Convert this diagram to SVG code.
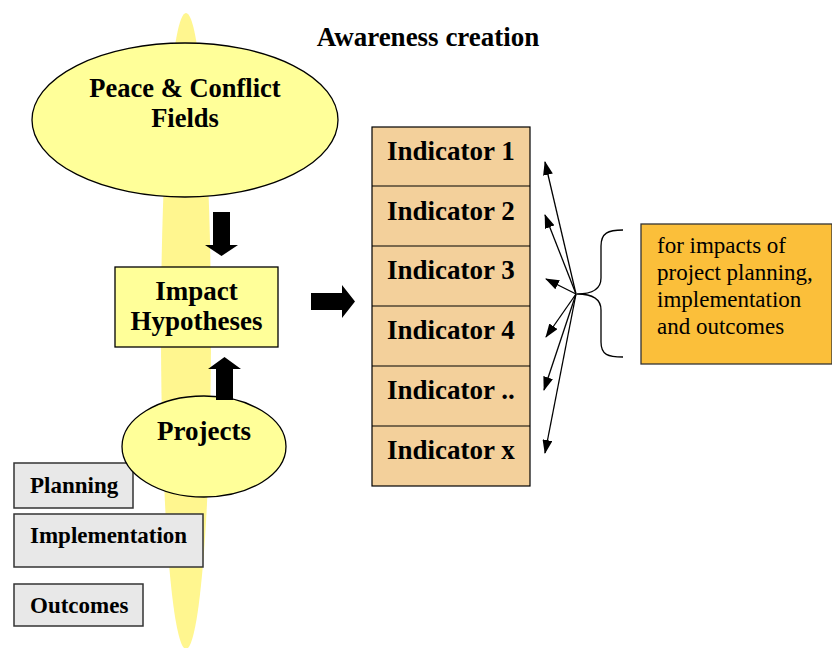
<svg xmlns="http://www.w3.org/2000/svg" width="832" height="648" viewBox="0 0 832 648">
<defs>
<style>
.b{font-family:"Liberation Serif","Times New Roman",serif;font-weight:bold;fill:#000}
.r{font-family:"Liberation Serif","Times New Roman",serif;fill:#000}
.yel{fill:#ffff99;stroke:#000;stroke-width:1.3}
.gray{fill:#e8e8e8;stroke:#333;stroke-width:1.5}
.ind{fill:#f3d09b;stroke:#000;stroke-width:1.2}
.fan{stroke:#000;stroke-width:1.3;fill:none;marker-end:url(#ah)}
</style>
<marker id="ah" viewBox="0 0 14 10" refX="13" refY="5" markerWidth="14" markerHeight="10" markerUnits="userSpaceOnUse" orient="auto">
<path d="M0,0 L14,5 L0,10 Z" fill="#000"/>
</marker>
</defs>
<rect width="832" height="648" fill="#fff"/>
<ellipse id="spindle" cx="186" cy="331" rx="25" ry="318" fill="#fff68f"/>
<text class="b" x="428" y="46" font-size="27" text-anchor="middle">Awareness creation</text>
<g id="peace">
<ellipse class="yel" cx="185" cy="120" rx="153" ry="77"/>
<text class="b" x="185" y="97" font-size="26.5" text-anchor="middle">Peace &amp; Conflict</text>
<text class="b" x="185" y="127" font-size="26.5" text-anchor="middle">Fields</text>
</g>
<g id="impact">
<rect class="yel" x="115" y="267" width="163" height="80"/>
<text class="b" x="196.5" y="300" font-size="27" text-anchor="middle">Impact</text>
<text class="b" x="196.5" y="330" font-size="27" text-anchor="middle">Hypotheses</text>
</g>
<g id="planning">
<rect class="gray" x="14" y="463" width="119" height="45"/>
<text class="b" x="30" y="493" font-size="23">Planning</text>
</g>
<g id="implementation">
<rect class="gray" x="14" y="514" width="189" height="53"/>
<text class="b" x="30" y="543" font-size="23">Implementation</text>
</g>
<g id="outcomes">
<rect class="gray" x="14" y="584" width="129" height="42"/>
<text class="b" x="30" y="613" font-size="23">Outcomes</text>
</g>
<g id="projects">
<ellipse class="yel" cx="204" cy="446.5" rx="82" ry="50.5"/>
<text class="b" x="204" y="440" font-size="27" text-anchor="middle">Projects</text>
</g>
<g id="indicators">
<rect class="ind" x="372" y="127" width="158" height="359"/>
<line x1="372" y1="186" x2="530" y2="186" stroke="#000" stroke-width="1.2"/>
<line x1="372" y1="246" x2="530" y2="246" stroke="#000" stroke-width="1.2"/>
<line x1="372" y1="306" x2="530" y2="306" stroke="#000" stroke-width="1.2"/>
<line x1="372" y1="366" x2="530" y2="366" stroke="#000" stroke-width="1.2"/>
<line x1="372" y1="426" x2="530" y2="426" stroke="#000" stroke-width="1.2"/>
<text class="b" x="387" y="160" font-size="27">Indicator 1</text>
<text class="b" x="387" y="220" font-size="27">Indicator 2</text>
<text class="b" x="387" y="279" font-size="27">Indicator 3</text>
<text class="b" x="387" y="339" font-size="27">Indicator 4</text>
<text class="b" x="387" y="399" font-size="27">Indicator ..</text>
<text class="b" x="387" y="459" font-size="27">Indicator x</text>
</g>
<g id="note">
<rect x="641" y="224" width="191" height="140" fill="#fbbf3a" stroke="#333" stroke-width="1.3"/>
<text class="r" x="657" y="253" font-size="23">for impacts of</text>
<text class="r" x="657" y="280" font-size="23">project planning,</text>
<text class="r" x="657" y="307" font-size="23">implementation</text>
<text class="r" x="657" y="334" font-size="23">and outcomes</text>
</g>
<g id="connectors">
<path d="M213,212 H230 V245 H238 L221.5,256 L205,245 H213 Z" fill="#000"/>
<path d="M216,400 H233 V369 H241 L224.5,357 L208,369 H216 Z" fill="#000"/>
<path d="M311,293 H342 V285 L355,301.5 L342,318 V310 H311 Z" fill="#000"/>
<line class="fan" x1="576" y1="294" x2="545" y2="162"/>
<line class="fan" x1="576" y1="294" x2="545" y2="215"/>
<line class="fan" x1="576" y1="294" x2="546" y2="279"/>
<line class="fan" x1="576" y1="294" x2="546" y2="337"/>
<line class="fan" x1="576" y1="294" x2="544" y2="390"/>
<line class="fan" x1="576" y1="294" x2="545" y2="453"/>
<path d="M623,230 C608,230 601,233 601,246 V278 C601,290 590,294 577,294 C590,294 601,298 601,310 V342 C601,355 608,357 623,357" fill="none" stroke="#000" stroke-width="1.3"/>
</g>
</svg>
